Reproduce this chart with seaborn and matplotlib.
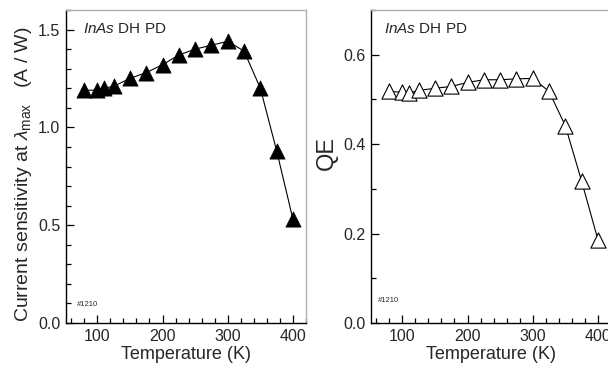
import matplotlib
matplotlib.use("Agg")
import matplotlib.pyplot as plt
import seaborn as sns
import pandas as pd
from matplotlib.ticker import MultipleLocator

temperature = [80, 100, 110, 125, 150, 175, 200, 225, 250, 275, 300, 325, 350, 375, 400]
sensitivity = [1.19, 1.19, 1.20, 1.21, 1.25, 1.28, 1.32, 1.37, 1.40, 1.42, 1.44, 1.39, 1.20, 0.88, 0.53]
qe = [0.518, 0.516, 0.514, 0.520, 0.525, 0.529, 0.538, 0.544, 0.544, 0.546, 0.547, 0.518, 0.441, 0.317, 0.186]

df = pd.DataFrame({"T": temperature, "S": sensitivity, "QE": qe})

sns.set_style("ticks")
plt.rcParams["font.family"] = ["Liberation Sans", "DejaVu Sans"]
plt.rcParams["mathtext.fontset"] = "custom"
plt.rcParams["mathtext.rm"] = "Liberation Sans"
plt.rcParams["mathtext.it"] = "Liberation Sans:italic"

fig = plt.figure(figsize=(6.08, 3.68), dpi=100)
W = 240 / 608
H = 313 / 368
B = 45 / 368
ax1 = fig.add_axes([66 / 608, B, W, H])
ax2 = fig.add_axes([371 / 608, B, W, H])


def style(ax, ymax, ymajor):
    ax.set_xlim(52, 420)
    ax.set_ylim(0, ymax)
    ax.xaxis.set_major_locator(MultipleLocator(100))
    ax.xaxis.set_minor_locator(MultipleLocator(20))
    ax.yaxis.set_major_locator(MultipleLocator(ymajor))
    ax.yaxis.set_minor_locator(MultipleLocator(0.1))
    ax.tick_params(which="both", direction="in", top=False, right=False,
                   labelsize=11.5, color="black", width=0.9)
    ax.tick_params(which="major", length=6, pad=4)
    ax.tick_params(which="minor", length=3.5)
    for s in ["left", "bottom"]:
        ax.spines[s].set_color("black")
        ax.spines[s].set_linewidth(1.0)
    for s in ["top", "right"]:
        ax.spines[s].set_color("#b0b0b0")
        ax.spines[s].set_linewidth(1.0)
    ax.set_xlabel("Temperature (K)", fontsize=13, labelpad=2)


# Left panel
sns.lineplot(data=df, x="T", y="S", ax=ax1, color="black", linewidth=0.8, zorder=2)
sns.scatterplot(data=df, x="T", y="S", ax=ax1, marker="^", s=120, color="black",
                edgecolor="black", linewidth=0.5, zorder=3)
style(ax1, 1.6, 0.5)
ax1.set_ylabel(r"Current sensitivity at $\lambda_{\mathrm{max}}$   (A / W)", fontsize=14)
ax1.yaxis.set_label_coords(-0.135, 0.475)
ax1.text(0.07, 0.94, r"$\it{InAs}$ DH PD", transform=ax1.transAxes, fontsize=11,
         va="center", ha="left")
ax1.text(0.045, 0.058, "#1210", transform=ax1.transAxes, fontsize=5.5, va="center", ha="left")

# Right panel
sns.lineplot(data=df, x="T", y="QE", ax=ax2, color="black", linewidth=0.8, zorder=2)
sns.scatterplot(data=df, x="T", y="QE", ax=ax2, marker="^", s=120, color="white",
                edgecolor="black", linewidth=0.8, zorder=3)
style(ax2, 0.7, 0.2)
ax2.set_ylabel("QE", fontsize=17)
ax2.yaxis.set_label_coords(-0.14, 0.543)
ax2.text(0.055, 0.94, r"$\it{InAs}$ DH PD", transform=ax2.transAxes, fontsize=11,
         va="center", ha="left")
ax2.text(0.03, 0.073, "#1210", transform=ax2.transAxes, fontsize=5.5, va="center", ha="left")

fig.savefig("out.png", dpi=100)
